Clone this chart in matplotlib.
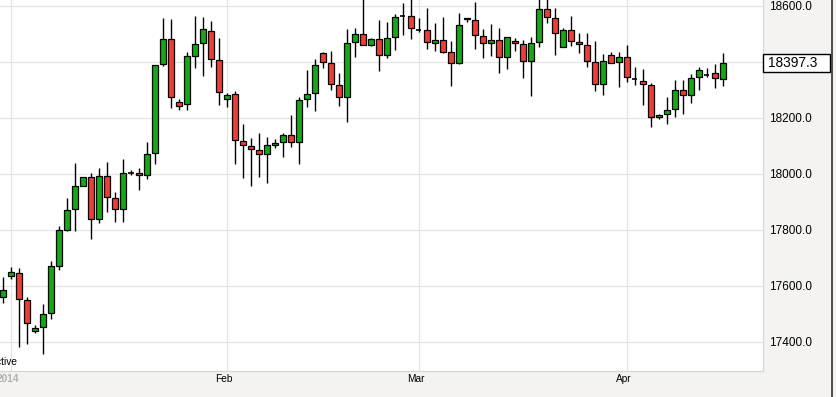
import numpy as np
import pandas as pd
import matplotlib
matplotlib.use('Agg')
import matplotlib.pyplot as plt
import matplotlib.transforms as mtransforms
from matplotlib.patches import Rectangle
from matplotlib.lines import Line2D

# six-day trading calendar (Mon-Sat)
dates = pd.bdate_range('2013-12-31', '2014-04-15', freq='C',
                       weekmask='Mon Tue Wed Thu Fri Sat')

opens = [17560, 17635, 17645, 17549, 17438, 17452, 17502, 17672, 17800, 17874,
         17958, 17988, 17838, 17992, 17913, 17874, 18005, 18004, 17995, 18074,
         18393, 18481, 18256, 18249, 18422, 18467, 18512, 18406, 18269, 18285,
         18117, 18099, 18085, 18070, 18102, 18113, 18138, 18113, 18267, 18288,
         18431, 18395, 18317, 18274, 18470, 18499, 18460, 18481, 18424, 18488,
         18564, 18564, 18515, 18513, 18467, 18477, 18435, 18395, 18556, 18549,
         18492, 18467, 18477, 18417, 18474, 18463, 18402, 18470, 18588, 18556,
         18452, 18513, 18470, 18460, 18399, 18320, 18424, 18399, 18417, 18341,
         18331, 18317, 18202, 18213, 18231, 18299, 18281, 18345, 18355, 18360,
         18338]
highs = [17633, 17667, 17663, 17560, 17462, 17536, 17690, 17814, 17913, 18038,
         17989, 18002, 18020, 18042, 17935, 18052, 18013, 18020, 18113, 18389,
         18556, 18552, 18268, 18437, 18564, 18562, 18546, 18487, 18288, 18297,
         18177, 18127, 18145, 18131, 18124, 18146, 18210, 18276, 18371, 18410,
         18437, 18439, 18362, 18517, 18520, 18640, 18485, 18549, 18542, 18570,
         18610, 18630, 18556, 18592, 18538, 18560, 18474, 18574, 18556, 18615,
         18517, 18535, 18520, 18490, 18485, 18479, 18488, 18630, 18625, 18592,
         18520, 18564, 18502, 18502, 18474, 18427, 18435, 18437, 18460, 18383,
         18374, 18324, 18213, 18274, 18335, 18335, 18356, 18381, 18377, 18392,
         18431]
lows = [17538, 17624, 17383, 17393, 17433, 17356, 17481, 17657, 17797, 17797,
        17957, 17768, 17824, 17865, 17830, 17830, 17996, 17943, 17981, 18035,
        18387, 18235, 18229, 18229, 18377, 18350, 18383, 18245, 18240, 18037,
        17984, 17958, 17988, 17967, 18092, 18061, 18097, 18037, 18238, 18226,
        18377, 18300, 18242, 18185, 18417, 18460, 18456, 18368, 18413, 18442,
        18495, 18481, 18506, 18445, 18440, 18431, 18314, 18392, 18542, 18447,
        18415, 18420, 18362, 18374, 18440, 18343, 18280, 18452, 18538, 18426,
        18452, 18456, 18431, 18383, 18295, 18281, 18395, 18310, 18327, 18317,
        18245, 18167, 18195, 18177, 18202, 18213, 18252, 18299, 18345, 18306,
        18313]
closes = [17586, 17649, 17554, 17467, 17450, 17499, 17671, 17799, 17870, 17956,
          17988, 17838, 17992, 17917, 17874, 18002, 18005, 17995, 18070, 18388,
          18481, 18274, 18244, 18420, 18463, 18517, 18410, 18292, 18281, 18120,
          18102, 18088, 18070, 18102, 18110, 18138, 18113, 18263, 18285, 18388,
          18399, 18320, 18274, 18467, 18499, 18460, 18481, 18424, 18485, 18560,
          18564, 18520, 18515, 18470, 18477, 18437, 18395, 18531, 18555, 18495,
          18467, 18477, 18417, 18488, 18467, 18402, 18467, 18588, 18560, 18502,
          18513, 18474, 18463, 18402, 18320, 18402, 18395, 18417, 18345, 18341,
          18320, 18202, 18210, 18227, 18299, 18281, 18342, 18370, 18355, 18342,
          18397.3]

y_ticks = [17400, 17600, 17800, 18000, 18200, 18400, 18600]
status_text = 'Inactive'

up_col = '#17a817'
down_col = '#e8413c'
W, H = 836, 397

plt.rcParams['font.family'] = ['Liberation Sans', 'DejaVu Sans']

fig = plt.figure(figsize=(W / 100, H / 100), dpi=100, facecolor='#f4f3f0')
ax = fig.add_axes([0, 26 / H, 763 / W, 371 / H])
ax.set_facecolor('white')

x = np.arange(len(dates))
body_w = 0.72
ax.vlines(x, lows, highs, color='black', lw=1, zorder=2)
for i in range(len(x)):
    o, c = opens[i], closes[i]
    if o == c:
        ax.hlines(o, i - 0.35, i + 0.35, color='black', lw=1.2, zorder=3)
        continue
    col = up_col if c > o else down_col
    ax.add_patch(Rectangle((i - body_w / 2, min(o, c)), body_w, abs(c - o),
                           facecolor=col, edgecolor='black', lw=0.9, zorder=3))

ax.set_xlim(-0.34, 95.04)
ax.set_ylim(17296.4, 18621.4)

# month boundaries
month_pos = [i for i in range(1, len(dates)) if dates[i].month != dates[i - 1].month]
ax.set_xticks(month_pos)
ax.tick_params(axis='x', length=0, labelbottom=False)
trans = mtransforms.blended_transform_factory(ax.transData, fig.transFigure)
for p in month_pos:
    d = dates[p]
    if d.month == 1:
        ax.text(p - 0.35, 1 - 379 / H, str(d.year), transform=trans, ha='center',
                va='center', fontsize=7.3, color='#b0b0b0', fontweight='bold')
    else:
        ax.text(p - 0.35, 1 - 379 / H, d.strftime('%b'), transform=trans,
                ha='center', va='center', fontsize=7.3, color='black')

ax.yaxis.tick_right()
ax.set_yticks(y_ticks)
last_price = closes[-1]
ax.set_yticklabels(['' if abs(t - last_price) < 30 else '%.1f' % t for t in y_ticks])
ax.tick_params(axis='y', length=0, pad=4.3, labelsize=8.5)
ax.grid(True, color='#e4e4e4', lw=0.9, zorder=0)
ax.set_axisbelow(True)

for s in ['left', 'top']:
    ax.spines[s].set_visible(False)
for s in ['right', 'bottom']:
    ax.spines[s].set_color('#d6d6d6')
    ax.spines[s].set_linewidth(0.9)

ax.text(16.7 / 763, 1 - 361.7 / 371, status_text, transform=ax.transAxes,
        ha='right', va='center', fontsize=7.3, color='black')

# last price box
y_last = ax.transData.transform((0, last_price))[1] / (H)
fig.add_artist(Rectangle((763.3 / W, y_last - 8.8 / H), 66.7 / W, 17.7 / H,
                         transform=fig.transFigure, facecolor='white',
                         edgecolor='black', lw=1))
fig.text(768 / W, y_last, '%.1f' % last_price, ha='left', va='center',
         fontsize=9.8, color='black')

fig.add_artist(Line2D([831.5 / W, 831.5 / W], [0, 1], transform=fig.transFigure,
                      color='#333333', lw=1.2))

fig.savefig('out.png', dpi=100, facecolor=fig.get_facecolor())
